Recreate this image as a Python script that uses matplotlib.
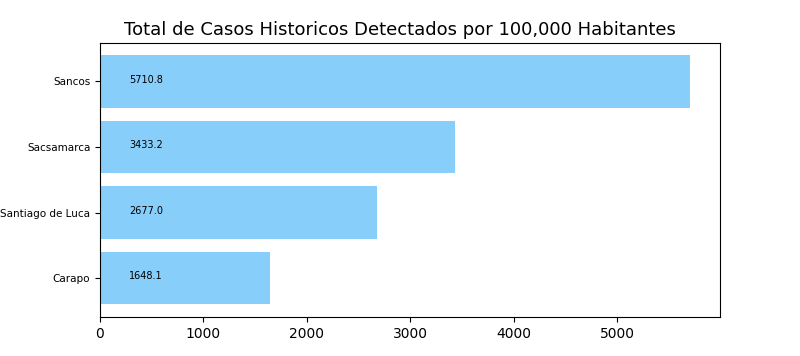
import matplotlib
matplotlib.use('Agg')
import matplotlib.pyplot as plt

# data
districts = ['Carapo', 'Santiago de Luca', 'Sacsamarca', 'Sancos']
rates = [1648.1, 2677.0, 3433.2, 5710.8]

fig, ax = plt.subplots(figsize=(8, 3.56), dpi=100)
ax.barh(districts, rates, color='lightskyblue')

# value labels near the left of each bar
for i, v in enumerate(rates):
    ax.text(280, i - 0.02, f'{v:.1f}', fontsize=7)

ax.tick_params(axis='y', labelsize=7.5)
# title is centred on the figure, not on the axes
fig.suptitle('Total de Casos Historicos Detectados por 100,000 Habitantes',
             fontsize=13, x=0.5, y=1 - 30 / 356, va='center')

plt.subplots_adjust(left=0.125, right=0.9, top=0.88, bottom=0.11)
fig.savefig('out.png', dpi=100)
